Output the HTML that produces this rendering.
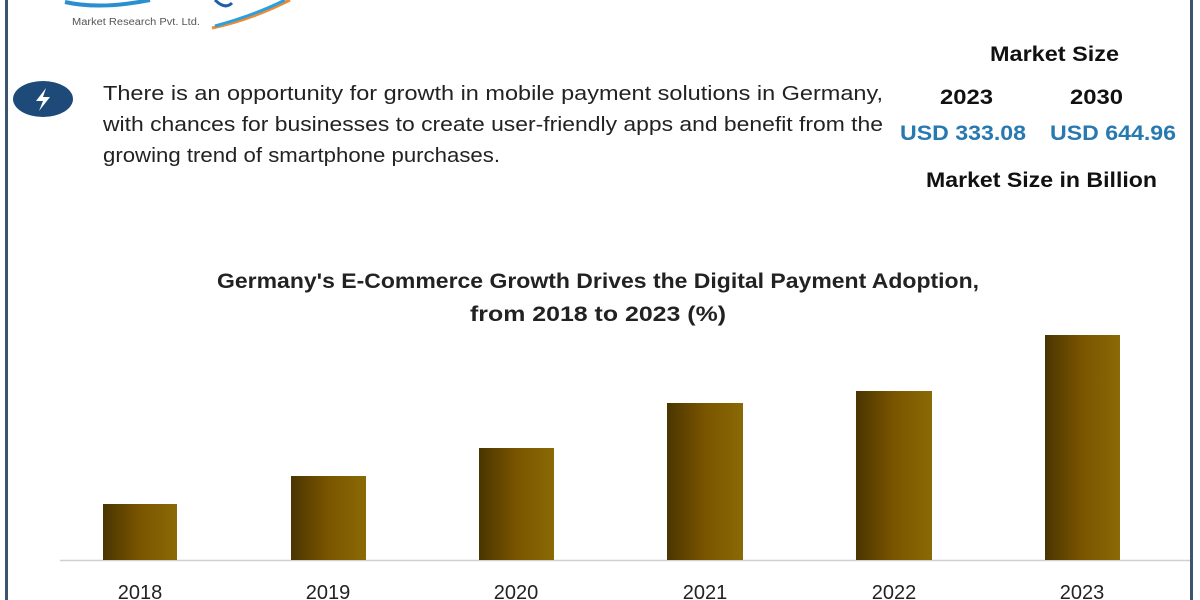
<!DOCTYPE html>
<html><head><meta charset="utf-8"><style>
html,body{margin:0;padding:0;background:#fff}
svg{display:block}
text{font-family:"Liberation Sans",sans-serif}
</style></head><body>
<svg width="1200" height="600" viewBox="0 0 1200 600">
<defs>
<linearGradient id="g" x1="0" x2="1" y1="0" y2="0">
<stop offset="0" stop-color="#4a3500"/><stop offset="0.5" stop-color="#7a5500"/><stop offset="1" stop-color="#8a6a05"/>
</linearGradient>
</defs>
<rect x="5" y="0" width="3" height="600" fill="#3b5570"/>
<rect x="1190" y="0" width="3" height="600" fill="#3b5570"/>
<!-- logo swooshes -->
<path d="M65 2 Q100 10 150 0" stroke="#2a8fd0" stroke-width="4" fill="none"/>
<path d="M215 0 Q225 10 232 3" stroke="#1e5fa8" stroke-width="3" fill="none"/>
<path d="M212 28 Q250 20 290 0" stroke="#f08a30" stroke-width="3" fill="none"/>
<path d="M215 26 Q255 15 285 0" stroke="#2aa0e0" stroke-width="3" fill="none"/>
<text x="72" y="25" font-size="10" fill="#555" textLength="128" lengthAdjust="spacingAndGlyphs">Market Research Pvt. Ltd.</text>
<!-- icon -->
<ellipse cx="43" cy="99" rx="30" ry="18" fill="#1e4a7a"/>
<path d="M46 88 L36 101 L43 101 L39 111 L50 97 L43 97 Z" fill="#fff"/>
<g font-size="20" fill="#222">
<text x="103" y="100" textLength="780" lengthAdjust="spacingAndGlyphs">There is an opportunity for growth in mobile payment solutions in Germany,</text>
<text x="103" y="131" textLength="780" lengthAdjust="spacingAndGlyphs">with chances for businesses to create user-friendly apps and benefit from the</text>
<text x="103" y="162" textLength="397" lengthAdjust="spacingAndGlyphs">growing trend of smartphone purchases.</text>
</g>
<g font-size="21" font-weight="bold" fill="#111">
<text x="990" y="61" textLength="129" lengthAdjust="spacingAndGlyphs">Market Size</text>
<text x="940" y="104" textLength="53" lengthAdjust="spacingAndGlyphs">2023</text>
<text x="1070" y="104" textLength="53" lengthAdjust="spacingAndGlyphs">2030</text>
<text x="926" y="187" textLength="231" lengthAdjust="spacingAndGlyphs">Market Size in Billion</text>
</g>
<g font-size="21" font-weight="bold" fill="#2779b0">
<text x="900" y="140" textLength="126" lengthAdjust="spacingAndGlyphs">USD 333.08</text>
<text x="1050" y="140" textLength="126" lengthAdjust="spacingAndGlyphs">USD 644.96</text>
</g>
<g font-size="21" font-weight="bold" fill="#222">
<text x="217" y="288" textLength="762" lengthAdjust="spacingAndGlyphs">Germany's E-Commerce Growth Drives the Digital Payment Adoption,</text>
<text x="470" y="321" textLength="256" lengthAdjust="spacingAndGlyphs">from 2018   to 2023 (%)</text>
</g>
<line x1="60" y1="560.5" x2="1190" y2="560.5" stroke="#d0d0d0" stroke-width="1.5"/>
<g fill="url(#g)">
<rect x="103" y="504" width="74" height="56"/>
<rect x="291" y="476" width="75" height="84"/>
<rect x="479" y="448" width="75" height="112"/>
<rect x="667" y="403" width="76" height="157"/>
<rect x="856" y="391" width="76" height="169"/>
<rect x="1045" y="335" width="75" height="225"/>
</g>
<g font-size="20" fill="#222" text-anchor="middle">
<text x="140" y="599">2018</text>
<text x="328" y="599">2019</text>
<text x="516" y="599">2020</text>
<text x="705" y="599">2021</text>
<text x="894" y="599">2022</text>
<text x="1082" y="599">2023</text>
</g>
</svg>
</body></html>
